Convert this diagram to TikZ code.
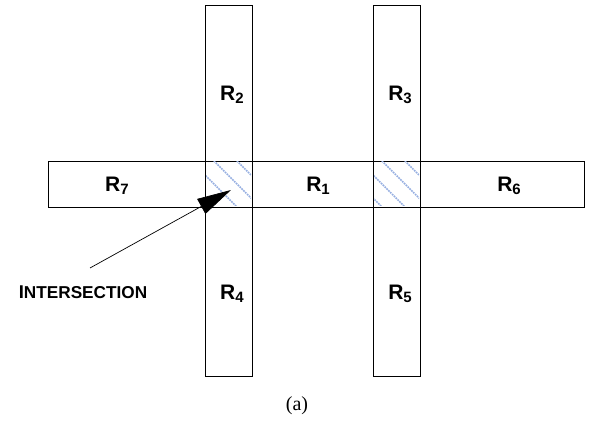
\documentclass[tikz,border=0pt]{standalone}
\usepackage{fontspec}
\setmainfont{Liberation Sans}
\newfontfamily\capfont{Liberation Serif}
\usetikzlibrary{arrows.meta}
\definecolor{hatchblue}{RGB}{150,175,225}

\newcommand{\reg}[1]{R\raisebox{-0.3ex}{\fontsize{15}{15}\selectfont #1}}

\begin{document}
\begin{tikzpicture}[x=1pt, y=-1pt,
  font=\fontsize{21}{23}\selectfont\bfseries,
  bar/.style={draw, line width=0.8pt, inner sep=0pt, minimum width=#1},
  hatch/.style={draw=hatchblue, line width=2.4pt, line cap=round, dash pattern=on 0pt off 2.6pt},
  lbl/.style={inner sep=1pt}]
  \useasboundingbox (0,0) rectangle (594,430);

  % crossing bars
  \node[bar=536pt, minimum height=46pt] (hbar) at (316,184) {};
  \node[bar=47pt, minimum height=371pt] (vleft) at (228.5,190.5) {};
  \node[bar=47pt, minimum height=371pt] (vright) at (396.5,190.5) {};

  % shaded overlaps
  \foreach \lx in {205,373} {
    \begin{scope}
      \clip (\lx+1,162) rectangle (\lx+46,206);
      \foreach \c in {-37,-14,9,32} {
        \draw[hatch] (\lx+\c-5,161-5) -- (\lx+\c+55,161+55);
      }
    \end{scope}
  }

  % region labels
  \node[lbl] (r2) at (232,95) {\reg{2}};
  \node[lbl] (r3) at (400,95) {\reg{3}};
  \node[lbl] (r7) at (117,186) {\reg{7}};
  \node[lbl] (r1) at (318,186) {\reg{1}};
  \node[lbl] (r6) at (509,186) {\reg{6}};
  \node[lbl] (r4) at (232,294) {\reg{4}};
  \node[lbl] (r5) at (400,294) {\reg{5}};

  % pointer
  \node[lbl] (isect) at (83,292) {\fontsize{18.5}{18}\selectfont I\fontsize{17.2}{17}\selectfont NTERSECTION};
  \coordinate (tail) at (90,268);
  \coordinate (tip) at (231,190);
  \draw[-{Triangle[length=34pt,width=17pt]}, line width=0.7pt] (tail) -- (tip);

  \node[font=\capfont\fontsize{20}{20}\selectfont] (cap) at (297,406) {(a)};
\end{tikzpicture}
\end{document}
